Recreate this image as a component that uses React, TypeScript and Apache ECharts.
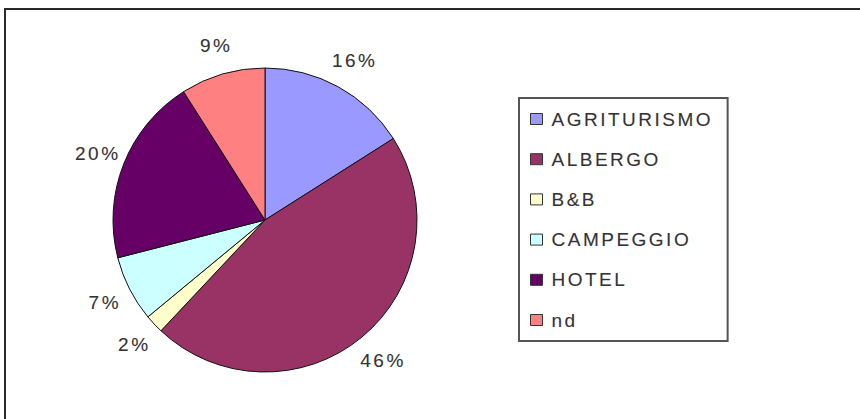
import React, { useEffect, useRef } from "react";
import * as echarts from "echarts";

const categories = ["AGRITURISMO", "ALBERGO", "B&B", "CAMPEGGIO", "HOTEL", "nd"];
const shares = [16, 46, 2, 7, 20, 9];
const colors = ["#9999FF", "#993366", "#FFFFCC", "#CCFFFF", "#660066", "#FF8080"];

const FONT = "'Liberation Sans', Arial, sans-serif";

export default function App() {
  const ref = useRef<HTMLDivElement>(null);
  useEffect(() => {
    if (!ref.current) return;
    const chart = echarts.init(ref.current, null, { renderer: "svg" });
    const data = categories.map((name, i) => ({
      name,
      value: shares[i],
      itemStyle: { color: colors[i] },
    }));
    chart.setOption({
      animation: false,
      backgroundColor: "#ffffff",
      graphic: [
        {
          type: "rect",
          shape: { x: 5, y: 9, width: 900, height: 500 },
          style: { fill: "none", stroke: "#2a2a2a", lineWidth: 2 },
          silent: true,
        },
      ],
      legend: {
        orient: "vertical",
        left: 519,
        top: 98,
        data: categories.map((name, i) => ({
          name,
          itemStyle: { color: colors[i], borderColor: "#333", borderWidth: 1 },
        })),
        icon: "rect",
        itemWidth: 12,
        itemHeight: 11,
        itemGap: 20.2,
        padding: [11, 42, 11, 11],
        borderColor: "#555",
        borderWidth: 2,
        textStyle: {
          fontFamily: FONT,
          fontSize: 19,
          color: "#333",
          lineHeight: 20,
          padding: [0, 0, 0, 4],
          textBorderColor: "#777",
          textBorderWidth: 0.15,
        },
        selectedMode: false,
      },
      series: [
        {
          type: "pie",
          center: [265, 220],
          radius: 152,
          startAngle: 90,
          clockwise: true,
          data,
          silent: true,
          itemStyle: { borderColor: "#111", borderWidth: 1 },
          label: { show: false },
          labelLine: { show: false },
        },
        {
          type: "pie",
          center: [267, 220],
          radius: [164, 194],
          startAngle: 90,
          clockwise: true,
          silent: true,
          data: categories.map((name, i) => ({ name, value: shares[i] })),
          itemStyle: { color: "rgba(0,0,0,0)", borderWidth: 0 },
          label: {
            show: true,
            position: "inside",
            formatter: "{c}%",
            fontFamily: FONT,
            fontSize: 19,
            color: "#333",
            textBorderColor: "#777",
            textBorderWidth: 0.15,
          },
          labelLine: { show: false },
        },
      ],
    });
    return () => chart.dispose();
  }, []);
  return (
    <div
      ref={ref}
      style={{
        position: "absolute",
        left: 0,
        top: 0,
        width: 860,
        height: 419,
        letterSpacing: "2.5px",
      }}
    />
  );
}
